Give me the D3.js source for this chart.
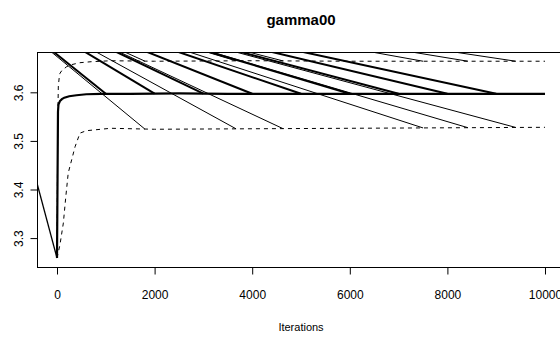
<!DOCTYPE html>
<html><head><meta charset="utf-8">
<script src="https://cdn.jsdelivr.net/npm/d3@7"></script>
<style>
html,body{margin:0;padding:0;background:#fff;}
svg{display:block;font-family:"Liberation Sans",Arial,Helvetica,sans-serif;}
</style></head>
<body><svg id="chart" width="560" height="338"></svg>
<script>
// ---- data ----
const title = "gamma00";
const xLabel = "Iterations";
const xTicks = [0, 2000, 4000, 6000, 8000, 10000];
const yTicks = [3.3, 3.4, 3.5, 3.6];

const medianIter = [0, 20, 30, 60, 100, 150, 250, 400, 600, 900, 1500, 2500, 3500, 4500, 6000, 8000, 10000];
const medianVal  = [3.259, 3.56, 3.575, 3.582, 3.586, 3.589, 3.592, 3.594, 3.596, 3.597, 3.597, 3.598, 3.597, 3.597, 3.597, 3.597, 3.597];

const upperIter = [0, 10, 15, 27, 45, 60, 100, 200, 300, 470, 700, 1100, 2000, 4000, 6000, 8000, 10000];
const upperVal  = [3.259, 3.45, 3.537, 3.613, 3.63, 3.639, 3.645, 3.653, 3.657, 3.661, 3.663, 3.665, 3.664, 3.665, 3.664, 3.664, 3.664];

const lowerIter = [0, 60, 130, 180, 230, 300, 370, 470, 600, 1100, 2000, 4000, 6000, 8000, 10000];
const lowerVal  = [3.259, 3.286, 3.331, 3.385, 3.434, 3.461, 3.488, 3.516, 3.521, 3.526, 3.524, 3.525, 3.526, 3.527, 3.528];

const leftIter = [-410, 0];
const leftVal  = [3.413, 3.259];

// stray segments drawn from an off-plot point to points on the curves
const fanOrigin = [-1950, 3.835];
const fanMedianIter = [1000, 2000, 3000, 4000, 5000, 6000, 7000, 8000, 9000];
const fanQuantIter  = [1800, 3670, 4630, 7500, 8420, 9400];

// ---- layout ----
const svg = d3.select("#chart");
const L = 37, R = 565, T = 52, B = 267;
const x = d3.scaleLinear().domain([-410, 10410]).range([L, R]);
const y = d3.scaleLinear().domain([3.2405, 3.683]).range([B, T]);

svg.append("defs").append("clipPath").attr("id","clip")
  .append("rect").attr("x",L).attr("y",T).attr("width",R-L).attr("height",B-T);

const g = svg.append("g").attr("clip-path","url(#clip)");
const line = d3.line().x(d=>x(d[0])).y(d=>y(d[1]));
const interp = (xs, vs, t) => {
  for (let i=1;i<xs.length;i++){ if (t<=xs[i]){ const f=(t-xs[i-1])/(xs[i]-xs[i-1]); return vs[i-1]+f*(vs[i]-vs[i-1]); } }
  return vs[vs.length-1];
};

// fan segments
fanQuantIter.forEach(t=>{
  [[lowerIter,lowerVal],[upperIter,upperVal]].forEach(([xs,vs])=>{
    g.append("path").attr("d", line([fanOrigin,[t, interp(xs,vs,t)]]))
      .attr("fill","none").attr("stroke","#000").attr("stroke-width",1);
  });
});
fanMedianIter.forEach(t=>{
  g.append("path").attr("d", line([fanOrigin,[t, interp(medianIter,medianVal,t)]]))
    .attr("fill","none").attr("stroke","#000").attr("stroke-width",2);
});

const zip = (a,b)=>a.map((v,i)=>[v,b[i]]);
g.append("path").attr("d", line(zip(leftIter,leftVal))).attr("fill","none").attr("stroke","#000").attr("stroke-width",1.3);
g.append("path").attr("d", line(zip(upperIter,upperVal))).attr("fill","none").attr("stroke","#000").attr("stroke-width",1).attr("stroke-dasharray","4,4");
g.append("path").attr("d", line(zip(lowerIter,lowerVal))).attr("fill","none").attr("stroke","#000").attr("stroke-width",1).attr("stroke-dasharray","4,4");
g.append("path").attr("d", line(zip(medianIter,medianVal))).attr("fill","none").attr("stroke","#000").attr("stroke-width",2.2);

// box
svg.append("rect").attr("x",L+0.5).attr("y",T+0.5).attr("width",R-L).attr("height",B-T)
  .attr("fill","none").attr("stroke","#000").attr("stroke-width",1);

// axes
const xa = svg.append("g").attr("transform",`translate(0,${B+0.5})`)
  .call(d3.axisBottom(x).tickValues(xTicks).tickSize(7).tickPadding(16).tickFormat(d3.format("d")));
xa.select(".domain").remove();
xa.selectAll("text").attr("font-size",12).attr("font-family","Liberation Sans, Arial, sans-serif").attr("fill","#000");

const ya = svg.append("g").attr("transform",`translate(${L+0.5},0)`)
  .call(d3.axisLeft(y).tickValues(yTicks).tickSize(7).tickFormat(d3.format(".1f")));
ya.select(".domain").remove();
ya.selectAll("text").attr("font-size",12).attr("font-family","Liberation Sans, Arial, sans-serif").attr("fill","#000")
  .attr("transform", d=>`rotate(-90, -18, ${y(d)})`).attr("x",-18).attr("y",y=>0).attr("dy",null)
  .attr("text-anchor","middle").attr("dominant-baseline","middle");
ya.selectAll(".tick text").each(function(d){
  d3.select(this).attr("transform", null).attr("transform", `translate(-18,0) rotate(-90)`).attr("x",0).attr("y",0);
});

svg.append("text").attr("x",301).attr("y",25).attr("text-anchor","middle")
  .attr("font-size",15).attr("font-weight","bold").text(title);
svg.append("text").attr("x",301).attr("y",331).attr("text-anchor","middle")
  .attr("font-size",11).text(xLabel);
</script></body></html>
